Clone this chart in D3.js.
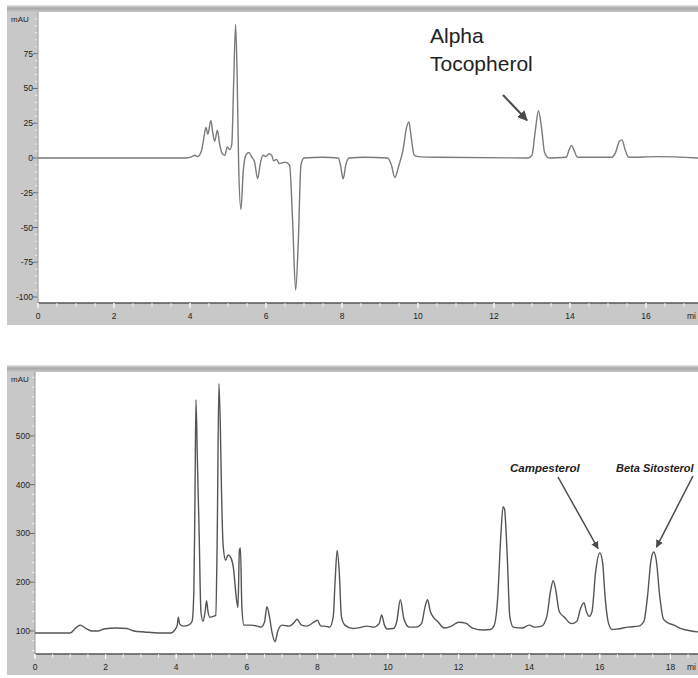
<!DOCTYPE html>
<html><head><meta charset="utf-8">
<script src="https://cdn.jsdelivr.net/npm/d3@7"></script>
<style>
html,body{margin:0;padding:0;background:#fff;}
svg{display:block;}
text{font-family:"Liberation Sans",Arial,sans-serif;}
</style></head>
<body>
<svg id="c" width="698" height="678"></svg>
<script>
// ---------- DATA ----------
// Top chromatogram (time in min, signal in mAU)
const topTime = [0,3.9,4.05,4.12,4.2,4.3,4.35,4.42,4.47,4.55,4.6,4.65,4.72,4.78,4.85,4.92,4.98,5.05,5.1,5.15,5.2,5.24,5.28,5.34,5.4,5.47,5.55,5.62,5.7,5.78,5.85,5.92,6.0,6.08,6.15,6.2,6.28,6.35,6.5,6.62,6.7,6.78,6.85,6.92,7.0,7.5,7.9,7.96,8.03,8.1,8.18,8.6,9.2,9.3,9.39,9.5,9.6,9.7,9.76,9.82,9.9,10.0,10.5,12.9,13.0,13.08,13.17,13.25,13.33,13.45,13.9,13.98,14.04,14.1,14.2,15.1,15.2,15.3,15.37,15.45,15.55,16.3,17.4];
const topSignal = [0,0,1,2,1,5,12,22,17,27,18,12,20,10,3,2,8,6,10,55,96,60,-5,-37,-10,2,4,1,-3,-15,-4,2,1,3,2,-2,-1,-4,-3,-5,-45,-95,-60,-5,0,0.5,0,-5,-15,-5,0,0.5,0,-5,-14,-5,5,22,26,15,2,1,0.5,0,2,18,34,22,4,0,0.5,6,9,6,0.5,0.5,4,12,13,6,0.5,1,0];
const topYTicks = [-100,-75,-50,-25,0,25,50,75];

// Bottom chromatogram
const botTime = [0,1.0,1.15,1.28,1.45,1.6,1.8,1.95,2.3,2.6,2.8,3.1,3.5,3.85,3.95,4.03,4.06,4.1,4.2,4.35,4.45,4.5,4.53,4.56,4.6,4.65,4.7,4.76,4.82,4.86,4.9,4.95,5.05,5.12,5.16,5.21,5.25,5.28,5.33,5.4,5.47,5.55,5.62,5.7,5.75,5.79,5.82,5.86,5.92,6.1,6.3,6.4,6.5,6.57,6.64,6.72,6.8,6.88,7.0,7.2,7.35,7.42,7.55,7.7,7.9,8.0,8.1,8.2,8.35,8.45,8.5,8.56,8.62,8.68,8.78,9.0,9.2,9.4,9.6,9.75,9.82,9.9,9.98,10.15,10.25,10.35,10.45,10.6,10.8,10.95,11.05,11.12,11.2,11.3,11.4,11.6,11.8,12.0,12.2,12.4,12.7,12.9,13.0,13.1,13.2,13.26,13.3,13.38,13.45,13.55,13.8,14.0,14.15,14.35,14.5,14.6,14.68,14.75,14.85,15.0,15.2,15.35,15.45,15.55,15.62,15.7,15.78,15.88,16.0,16.08,16.15,16.25,16.35,16.5,16.8,17.1,17.25,17.35,17.45,17.53,17.6,17.7,17.8,17.9,18.1,18.3,18.6,18.8];
const botSignal = [96,96,106,112,105,100,100,104,106,105,100,98,96,96,101,112,128,114,110,112,120,180,360,574,450,300,140,120,140,162,140,128,130,132,280,607,520,400,275,245,256,250,230,170,148,265,270,150,112,112,110,108,118,150,130,95,78,100,112,110,118,124,112,110,118,122,110,110,108,130,200,265,220,130,112,105,107,110,108,115,133,112,104,105,120,164,125,108,108,115,150,164,140,127,120,106,110,118,116,106,102,103,110,160,300,355,350,250,130,108,106,112,108,110,130,180,203,185,140,128,115,120,145,158,140,130,140,220,260,240,170,115,103,104,108,110,120,170,245,262,245,170,125,118,112,105,100,98];
const botYTicks = [100,200,300,400,500];

const topXTicks = [0,2,4,6,8,10,12,14,16];
const botXTicks = [0,2,4,6,8,10,12,14,16,18];

const topLabels = ["Alpha","Tocopherol"];
const botLabels = ["Campesterol","Beta Sitosterol"];
const unitLabel = "mi";

// ---------- DRAW ----------
const svg = d3.select("#c");
const defs = svg.append("defs");
const grad = defs.append("linearGradient").attr("id","bar").attr("x1",0).attr("x2",0).attr("y1",0).attr("y2",1);
grad.append("stop").attr("offset","0%").attr("stop-color","#e6e6e6");
grad.append("stop").attr("offset","45%").attr("stop-color","#a8a8a8");
grad.append("stop").attr("offset","100%").attr("stop-color","#c4c4c4");
defs.append("marker").attr("id","ah").attr("viewBox","0 0 10 10").attr("refX",9).attr("refY",5)
  .attr("markerWidth",5).attr("markerHeight",5).attr("orient","auto")
  .append("path").attr("d","M0,0L10,5L0,10z").attr("fill","#4a4a4a");

const tickFont = "'DejaVu Sans Condensed','Liberation Sans Narrow',sans-serif";

function panel(cfg){
  const g = svg.append("g");
  g.append("rect").attr("x",cfg.fx).attr("y",cfg.top).attr("width",698-cfg.fx).attr("height",cfg.fb-cfg.top).attr("fill","#c8c8c8");
  g.append("rect").attr("x",cfg.fx).attr("y",cfg.top-7).attr("width",698-cfg.fx).attr("height",7).attr("fill","url(#bar)");
  g.append("rect").attr("x",cfg.pl).attr("y",cfg.top).attr("width",698-cfg.pl).attr("height",cfg.pb-cfg.top).attr("fill","#fff");

  const x = d3.scaleLinear().domain([0,(698-cfg.pl)/cfg.pxPerMin]).range([cfg.pl,698]);
  const y = d3.scaleLinear().domain(cfg.yDomain).range([cfg.pb,cfg.top]);

  const yMinor = d3.range(Math.ceil(cfg.yDomain[0]/cfg.yMinorStep)*cfg.yMinorStep, cfg.yDomain[1], cfg.yMinorStep);
  g.selectAll(".ym").data(yMinor).join("line")
    .attr("x1",cfg.pl-3).attr("x2",cfg.pl).attr("y1",d=>y(d)).attr("y2",d=>y(d))
    .attr("stroke","#eeeeee").attr("stroke-width",1);
  g.selectAll(".yM").data(cfg.yTicks).join("line")
    .attr("x1",cfg.pl-5).attr("x2",cfg.pl).attr("y1",d=>y(d)).attr("y2",d=>y(d))
    .attr("stroke","#666").attr("stroke-width",1);
  g.selectAll(".yl").data(cfg.yTicks).join("text")
    .attr("x",cfg.pl-5).attr("y",d=>y(d)+3).attr("text-anchor","end")
    .attr("font-size",8.5).attr("fill","#222").attr("font-family",tickFont)
    .text(d=>d);
  g.append("text").attr("x",cfg.fx+4).attr("y",cfg.top+10).attr("font-size",8).attr("fill","#222")
    .attr("font-family",tickFont).text("mAU");
  g.append("line").attr("x1",cfg.pl).attr("x2",cfg.pl).attr("y1",cfg.top).attr("y2",cfg.pb).attr("stroke","#999");

  g.append("line").attr("x1",cfg.pl).attr("x2",698).attr("y1",cfg.pb).attr("y2",cfg.pb).attr("stroke","#555").attr("stroke-width",1.5);
  const xMinor = d3.range(0, x.domain()[1], 0.5);
  g.selectAll(".xm").data(xMinor).join("line")
    .attr("x1",d=>x(d)).attr("x2",d=>x(d)).attr("y1",cfg.pb).attr("y2",cfg.pb+4)
    .attr("stroke","#f2f2f2").attr("stroke-width",1);
  g.selectAll(".xM").data(cfg.xTicks).join("line")
    .attr("x1",d=>x(d)).attr("x2",d=>x(d)).attr("y1",cfg.pb).attr("y2",cfg.pb+5)
    .attr("stroke","#fafafa").attr("stroke-width",1.2);
  g.selectAll(".xl").data(cfg.xTicks).join("text")
    .attr("x",d=>x(d)).attr("y",cfg.pb+16).attr("text-anchor","middle")
    .attr("font-size",8.5).attr("fill","#222").attr("font-family",tickFont)
    .text(d=>d);
  g.append("text").attr("x",696).attr("y",cfg.pb+16).attr("text-anchor","end").attr("font-size",8.5).attr("fill","#222")
    .attr("font-family",tickFont).text(unitLabel);

  const pts = cfg.t.map((t,i)=>[t,cfg.s[i]]);
  const line = d3.line().x(d=>x(d[0])).y(d=>y(d[1])).curve(d3.curveMonotoneX);
  g.append("path").attr("d",line(pts)).attr("fill","none").attr("stroke",cfg.color).attr("stroke-width",1.4);
  return {g,x,y};
}

const A = panel({fx:7, top:12, fb:325, pl:38, pb:303, pxPerMin:38, yDomain:[-104.3,105], yTicks:topYTicks, yMinorStep:5, xTicks:topXTicks, t:topTime, s:topSignal, color:"#7a7a7a"});
const B = panel({fx:7, top:372, fb:675, pl:35, pb:654, pxPerMin:35.3, yDomain:[52.8,631], yTicks:botYTicks, yMinorStep:20, xTicks:botXTicks, t:botTime, s:botSignal, color:"#555"});

// Top annotation
A.g.append("text").attr("x",430).attr("y",43).attr("font-size",21).attr("fill","#222").text(topLabels[0]);
A.g.append("text").attr("x",430).attr("y",71).attr("font-size",21).attr("fill","#222").text(topLabels[1]);
A.g.append("line").attr("x1",503).attr("y1",95).attr("x2",A.x(13.0)-5).attr("y2",A.y(25)-3)
  .attr("stroke","#4a4a4a").attr("stroke-width",2).attr("marker-end","url(#ah)");

// Bottom annotations
B.g.append("text").attr("x",510).attr("y",472).attr("font-size",11.5).attr("font-weight","bold").attr("font-style","italic").attr("fill","#222").text(botLabels[0]);
B.g.append("text").attr("x",616).attr("y",472).attr("font-size",11).attr("font-weight","bold").attr("font-style","italic").attr("fill","#222").text(botLabels[1]);
B.g.append("line").attr("x1",558).attr("y1",477).attr("x2",B.x(15.95)).attr("y2",B.y(265)-2)
  .attr("stroke","#4a4a4a").attr("stroke-width",1.5).attr("marker-end","url(#ah)");
B.g.append("line").attr("x1",693).attr("y1",476).attr("x2",B.x(17.55)+2).attr("y2",B.y(268)-2)
  .attr("stroke","#4a4a4a").attr("stroke-width",1.5).attr("marker-end","url(#ah)");
</script>
</body></html>
